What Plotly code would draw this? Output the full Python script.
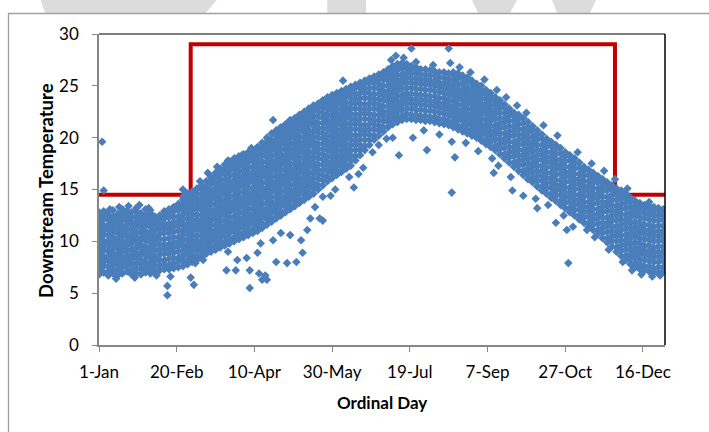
import plotly.graph_objects as go

# ---------------- data ----------------
column_days = [1, 4, 7, 10, 13, 16, 19, 22, 25, 28, 31, 34, 37, 40, 43, 46, 49, 52, 55, 58,
               61, 64, 67, 70, 73, 76, 79, 82, 85, 88, 91, 94, 97, 100, 103, 106, 109, 112, 115, 118,
               121, 124, 127, 130, 133, 136, 139, 142, 145, 148, 151, 154, 157, 160, 163, 166, 169, 172, 175, 178,
               181, 184, 187, 190, 193, 196, 199, 202, 205, 208, 211, 214, 217, 220, 223, 226, 229, 232, 235, 238,
               241, 244, 247, 250, 253, 256, 259, 262, 265, 268, 271, 274, 277, 280, 283, 286, 289, 292, 295, 298,
               301, 304, 307, 310, 313, 316, 319, 322, 325, 328, 331, 334, 337, 340, 343, 346, 349, 352, 355, 358,
               361, 364]

column_temps = [
    [6.8, 7.3, 7.7, 8.3, 8.8, 9.2, 9.7, 10.3, 10.7, 11.2, 11.8, 12.2, 12.8],
    [7.0, 7.6, 8.0, 8.5, 9.1, 9.5, 10.0, 10.6, 11.0, 11.5, 12.1, 12.5, 12.9],
    [6.7, 7.1, 7.6, 8.2, 8.6, 9.1, 9.7, 10.1, 10.6, 11.2, 11.6, 12.1, 12.6],
    [6.9, 7.4, 7.9, 8.4, 8.9, 9.4, 9.9, 10.4, 10.9, 11.4, 11.9, 12.4, 13.0],
    [6.7, 7.2, 7.8, 8.1, 8.7, 9.3, 9.6, 10.2, 10.8, 11.1, 11.7, 12.2, 12.6],
    [6.9, 7.5, 7.9, 8.4, 9.0, 9.4, 9.9, 10.5, 10.9, 11.4, 12.0, 12.4, 12.8, 13.1],
    [7.1, 7.6, 8.1, 8.6, 9.1, 9.6, 10.1, 10.6, 11.1, 11.6, 12.1, 12.5, 12.9],
    [6.8, 7.2, 7.8, 8.3, 8.7, 9.2, 9.8, 10.3, 10.7, 11.2, 11.8, 12.3, 12.8],
    [6.9, 7.4, 7.9, 8.5, 8.9, 9.4, 10.0, 10.4, 10.9, 11.5, 11.9, 12.4, 12.9, 13.2],
    [6.8, 7.3, 7.8, 8.2, 8.8, 9.3, 9.7, 10.2, 10.8, 11.3, 11.7, 12.2, 12.7],
    [7.0, 7.5, 8.0, 8.6, 9.0, 9.5, 10.1, 10.5, 11.0, 11.6, 12.0, 12.5, 13.1],
    [6.9, 7.3, 7.8, 8.4, 8.8, 9.3, 9.9, 10.3, 10.8, 11.4, 11.8, 12.3, 12.7, 13.0],
    [7.1, 7.6, 8.1, 8.5, 9.1, 9.6, 10.0, 10.5, 11.1, 11.5, 12.0, 12.4],
    [7.2, 7.7, 8.2, 8.7, 9.2, 9.7, 10.2, 10.7, 11.2, 11.7, 12.1, 12.5],
    [7.3, 7.8, 8.2, 8.8, 9.3, 9.7, 10.2, 10.8, 11.3, 11.7, 12.2, 12.6, 12.9],
    [7.3, 7.7, 8.3, 8.8, 9.2, 9.7, 10.3, 10.8, 11.2, 11.7, 12.3, 12.7, 13.1],
    [7.4, 7.9, 8.4, 8.9, 9.4, 9.9, 10.4, 10.9, 11.4, 11.9, 12.4, 12.9, 13.3],
    [7.5, 8.0, 8.4, 9.0, 9.5, 9.9, 10.4, 11.0, 11.5, 11.9, 12.4, 13.0, 13.4, 13.6],
    [7.6, 8.1, 8.6, 9.1, 9.6, 10.1, 10.6, 11.1, 11.6, 12.1, 12.6, 13.1, 13.6, 14.0, 14.3],
    [7.8, 8.2, 8.8, 9.3, 9.7, 10.2, 10.8, 11.3, 11.7, 12.2, 12.8, 13.3, 13.7, 14.2, 14.6],
    [8.0, 8.5, 9.0, 9.5, 10.0, 10.5, 11.0, 11.5, 12.0, 12.5, 13.0, 13.5, 14.0, 14.4, 14.8],
    [8.2, 8.6, 9.2, 9.7, 10.1, 10.6, 11.2, 11.7, 12.1, 12.6, 13.2, 13.7, 14.1, 14.6, 15.1],
    [8.5, 9.0, 9.5, 10.0, 10.5, 11.0, 11.5, 12.0, 12.5, 13.0, 13.5, 14.0, 14.5, 15.0, 15.4],
    [8.8, 9.2, 9.8, 10.3, 10.7, 11.2, 11.8, 12.3, 12.7, 13.2, 13.8, 14.3, 14.7, 15.2, 15.8],
    [9.0, 9.5, 10.0, 10.5, 11.0, 11.5, 12.0, 12.5, 13.0, 13.5, 14.0, 14.5, 15.0, 15.5, 15.9, 16.2],
    [9.2, 9.6, 10.2, 10.7, 11.1, 11.6, 12.2, 12.7, 13.1, 13.6, 14.2, 14.7, 15.1, 15.6, 16.2, 16.6],
    [9.4, 9.9, 10.4, 10.9, 11.4, 11.9, 12.4, 12.9, 13.4, 13.9, 14.4, 14.9, 15.4, 15.9, 16.4, 16.7, 17.0],
    [9.6, 10.0, 10.6, 11.1, 11.5, 12.0, 12.6, 13.1, 13.5, 14.0, 14.6, 15.1, 15.5, 16.0, 16.6, 17.0, 17.4],
    [9.8, 10.3, 10.8, 11.3, 11.8, 12.3, 12.8, 13.3, 13.8, 14.3, 14.8, 15.3, 15.8, 16.3, 16.8, 17.3, 17.7],
    [10.0, 10.4, 11.0, 11.5, 11.9, 12.4, 13.0, 13.5, 13.9, 14.4, 15.0, 15.5, 15.9, 16.4, 17.0, 17.5, 18.0],
    [10.2, 10.7, 11.2, 11.7, 12.2, 12.7, 13.2, 13.7, 14.2, 14.7, 15.2, 15.7, 16.2, 16.7, 17.2, 17.7, 18.2],
    [10.4, 10.8, 11.4, 11.9, 12.3, 12.8, 13.4, 13.9, 14.3, 14.8, 15.4, 15.9, 16.3, 16.8, 17.4, 17.9, 18.4],
    [10.6, 11.1, 11.6, 12.1, 12.6, 13.1, 13.6, 14.1, 14.6, 15.1, 15.6, 16.1, 16.6, 17.1, 17.6, 18.1, 18.6],
    [10.8, 11.2, 11.8, 12.3, 12.7, 13.2, 13.8, 14.3, 14.7, 15.2, 15.8, 16.3, 16.7, 17.2, 17.8, 18.3, 18.8],
    [11.0, 11.5, 12.0, 12.5, 13.0, 13.5, 14.0, 14.5, 15.0, 15.5, 16.0, 16.5, 17.0, 17.5, 18.0, 18.5, 18.9, 19.1],
    [11.3, 11.7, 12.3, 12.8, 13.2, 13.7, 14.3, 14.8, 15.2, 15.7, 16.3, 16.8, 17.2, 17.7, 18.3, 18.8, 19.2, 19.5],
    [11.6, 12.1, 12.6, 13.1, 13.6, 14.1, 14.6, 15.1, 15.6, 16.1, 16.6, 17.1, 17.6, 18.1, 18.6, 19.1, 19.6, 20.0],
    [11.9, 12.3, 12.9, 13.4, 13.8, 14.3, 14.9, 15.4, 15.8, 16.3, 16.9, 17.4, 17.8, 18.3, 18.9, 19.4, 19.8, 20.4],
    [12.2, 12.7, 13.2, 13.7, 14.2, 14.7, 15.2, 15.7, 16.2, 16.7, 17.2, 17.7, 18.2, 18.7, 19.2, 19.7, 20.2, 20.7],
    [12.5, 12.9, 13.5, 14.0, 14.4, 14.9, 15.5, 16.0, 16.4, 16.9, 17.5, 18.0, 18.4, 18.9, 19.5, 20.0, 20.5, 21.0],
    [12.8, 13.3, 13.8, 14.3, 14.8, 15.3, 15.8, 16.3, 16.8, 17.3, 17.8, 18.3, 18.8, 19.3, 19.8, 20.3, 20.8, 21.3],
    [13.1, 13.5, 14.1, 14.6, 15.0, 15.5, 16.1, 16.6, 17.0, 17.5, 18.1, 18.6, 19.0, 19.5, 20.1, 20.6, 21.1, 21.6],
    [13.4, 13.9, 14.4, 14.9, 15.4, 15.9, 16.4, 16.9, 17.4, 17.9, 18.4, 18.9, 19.4, 19.9, 20.4, 20.9, 21.4, 21.9],
    [13.7, 14.1, 14.7, 15.2, 15.6, 16.1, 16.7, 17.2, 17.6, 18.1, 18.7, 19.2, 19.6, 20.1, 20.7, 21.2, 21.7, 22.2],
    [14.0, 14.5, 15.0, 15.5, 16.0, 16.5, 17.0, 17.5, 18.0, 18.5, 19.0, 19.5, 20.0, 20.5, 21.0, 21.5, 22.0, 22.5],
    [14.3, 14.7, 15.3, 15.8, 16.2, 16.7, 17.3, 17.8, 18.2, 18.7, 19.3, 19.8, 20.2, 20.7, 21.3, 21.8, 22.3, 22.8],
    [14.6, 15.1, 15.6, 16.1, 16.6, 17.1, 17.6, 18.1, 18.6, 19.1, 19.6, 20.1, 20.6, 21.1, 21.6, 22.1, 22.6, 23.1],
    [15.0, 15.4, 16.0, 16.5, 16.9, 17.4, 18.0, 18.5, 18.9, 19.4, 20.0, 20.5, 20.9, 21.4, 22.0, 22.5, 22.9, 23.3],
    [15.4, 15.9, 16.4, 16.9, 17.4, 17.9, 18.4, 18.9, 19.4, 19.9, 20.4, 20.9, 21.4, 21.9, 22.4, 22.9, 23.3, 23.6],
    [15.8, 16.2, 16.8, 17.3, 17.7, 18.2, 18.8, 19.3, 19.7, 20.2, 20.8, 21.3, 21.7, 22.2, 22.8, 23.3, 23.9],
    [16.1, 16.6, 17.1, 17.6, 18.1, 18.6, 19.1, 19.6, 20.1, 20.6, 21.1, 21.6, 22.1, 22.6, 23.1, 23.6, 24.1],
    [16.4, 16.8, 17.4, 17.9, 18.3, 18.8, 19.4, 19.9, 20.3, 20.8, 21.4, 21.9, 22.3, 22.8, 23.4, 23.9, 24.3],
    [16.7, 17.2, 17.7, 18.2, 18.7, 19.2, 19.7, 20.2, 20.7, 21.2, 21.7, 22.2, 22.7, 23.2, 23.7, 24.1, 24.5],
    [17.0, 17.4, 18.0, 18.5, 18.9, 19.4, 20.0, 20.5, 20.9, 21.4, 22.0, 22.5, 22.9, 23.4, 24.0, 24.4, 24.7],
    [17.3, 17.8, 18.3, 18.8, 19.3, 19.8, 20.3, 20.8, 21.3, 21.8, 22.3, 22.8, 23.3, 23.8, 24.3, 24.6, 24.9],
    [17.8, 18.2, 18.8, 19.3, 19.7, 20.2, 20.8, 21.3, 21.7, 22.2, 22.8, 23.3, 23.7, 24.2, 24.8, 25.1],
    [18.3, 18.8, 19.3, 19.8, 20.3, 20.8, 21.3, 21.8, 22.3, 22.8, 23.3, 23.8, 24.3, 24.8, 25.3],
    [18.8, 19.2, 19.8, 20.3, 20.7, 21.2, 21.8, 22.3, 22.7, 23.2, 23.8, 24.3, 24.7, 25.2, 25.5],
    [19.3, 19.8, 20.3, 20.8, 21.3, 21.8, 22.3, 22.8, 23.3, 23.8, 24.3, 24.8, 25.3, 25.7],
    [19.8, 20.2, 20.8, 21.3, 21.7, 22.2, 22.8, 23.3, 23.7, 24.2, 24.8, 25.3, 25.6, 25.9],
    [20.2, 20.7, 21.2, 21.7, 22.2, 22.7, 23.2, 23.7, 24.2, 24.7, 25.2, 25.7, 26.1],
    [20.6, 21.0, 21.6, 22.1, 22.5, 23.0, 23.6, 24.1, 24.5, 25.0, 25.6, 26.0, 26.3],
    [21.0, 21.5, 22.0, 22.5, 23.0, 23.5, 24.0, 24.5, 25.0, 25.5, 26.0, 26.3, 26.6],
    [21.3, 21.7, 22.3, 22.8, 23.2, 23.7, 24.3, 24.8, 25.2, 25.7, 26.3, 26.6, 26.9],
    [21.5, 22.0, 22.5, 23.0, 23.5, 24.0, 24.5, 25.0, 25.5, 26.0, 26.5, 26.8, 27.1],
    [21.7, 22.1, 22.7, 23.2, 23.6, 24.1, 24.7, 25.2, 25.6, 26.1, 26.7, 27.0, 27.2],
    [21.8, 22.3, 22.8, 23.3, 23.8, 24.3, 24.8, 25.3, 25.8, 26.3, 26.7, 27.1],
    [21.8, 22.2, 22.8, 23.3, 23.7, 24.2, 24.8, 25.3, 25.7, 26.2, 26.6, 26.9],
    [21.7, 22.2, 22.7, 23.2, 23.7, 24.2, 24.7, 25.2, 25.7, 26.2, 26.5, 26.8],
    [21.7, 22.1, 22.7, 23.2, 23.6, 24.1, 24.7, 25.2, 25.6, 26.1, 26.6],
    [21.6, 22.1, 22.6, 23.1, 23.6, 24.1, 24.6, 25.1, 25.6, 26.1, 26.6],
    [21.6, 22.0, 22.6, 23.1, 23.5, 24.0, 24.6, 25.1, 25.5, 26.0, 26.5],
    [21.5, 22.0, 22.5, 23.0, 23.5, 24.0, 24.5, 25.0, 25.5, 26.0, 26.4],
    [21.4, 21.8, 22.4, 22.9, 23.3, 23.8, 24.4, 24.9, 25.3, 25.8, 26.3],
    [21.3, 21.8, 22.3, 22.8, 23.3, 23.8, 24.3, 24.8, 25.3, 25.8, 26.3],
    [21.2, 21.6, 22.2, 22.7, 23.1, 23.6, 24.2, 24.7, 25.1, 25.6, 26.2],
    [21.0, 21.5, 22.0, 22.5, 23.0, 23.5, 24.0, 24.5, 25.0, 25.5, 26.0, 26.3],
    [20.8, 21.2, 21.8, 22.3, 22.7, 23.2, 23.8, 24.3, 24.7, 25.2, 25.8, 26.2],
    [20.6, 21.1, 21.6, 22.1, 22.6, 23.1, 23.6, 24.1, 24.6, 25.1, 25.6, 26.0],
    [20.4, 20.8, 21.4, 21.9, 22.3, 22.8, 23.4, 23.9, 24.3, 24.8, 25.4, 25.8],
    [20.2, 20.7, 21.2, 21.7, 22.2, 22.7, 23.2, 23.7, 24.2, 24.7, 25.2, 25.5],
    [20.0, 20.4, 21.0, 21.5, 21.9, 22.4, 23.0, 23.5, 23.9, 24.4, 24.9, 25.2],
    [19.7, 20.2, 20.7, 21.2, 21.7, 22.2, 22.7, 23.2, 23.7, 24.2, 24.6, 25.0],
    [19.4, 19.8, 20.4, 20.9, 21.3, 21.8, 22.4, 22.9, 23.3, 23.8, 24.3, 24.6],
    [19.1, 19.6, 20.1, 20.6, 21.1, 21.6, 22.1, 22.6, 23.1, 23.6, 24.0, 24.3],
    [18.8, 19.2, 19.8, 20.3, 20.7, 21.2, 21.8, 22.3, 22.7, 23.2, 23.6, 23.9],
    [18.4, 18.9, 19.4, 19.9, 20.4, 20.9, 21.4, 21.9, 22.4, 22.9, 23.3, 23.6],
    [18.0, 18.4, 19.0, 19.5, 19.9, 20.4, 21.0, 21.5, 21.9, 22.4, 22.9, 23.2],
    [17.6, 18.1, 18.6, 19.1, 19.6, 20.1, 20.6, 21.1, 21.6, 22.1, 22.5, 22.8],
    [17.2, 17.6, 18.2, 18.7, 19.1, 19.6, 20.2, 20.7, 21.1, 21.6, 22.1, 22.4],
    [16.8, 17.3, 17.8, 18.3, 18.8, 19.3, 19.8, 20.3, 20.8, 21.3, 21.8, 22.2],
    [16.4, 16.8, 17.4, 17.9, 18.3, 18.8, 19.4, 19.9, 20.3, 20.8, 21.4, 21.9],
    [16.0, 16.5, 17.0, 17.5, 18.0, 18.5, 19.0, 19.5, 20.0, 20.5, 21.0, 21.5],
    [15.7, 16.1, 16.7, 17.2, 17.6, 18.1, 18.7, 19.2, 19.6, 20.1, 20.7, 21.1],
    [15.3, 15.8, 16.3, 16.8, 17.3, 17.8, 18.3, 18.8, 19.3, 19.8, 20.3, 20.7],
    [14.9, 15.3, 15.9, 16.4, 16.8, 17.3, 17.9, 18.4, 18.8, 19.3, 19.9, 20.3],
    [14.6, 15.1, 15.6, 16.1, 16.6, 17.1, 17.6, 18.1, 18.6, 19.1, 19.6, 19.9],
    [14.2, 14.6, 15.2, 15.7, 16.1, 16.6, 17.2, 17.7, 18.1, 18.6, 19.2, 19.6],
    [13.9, 14.4, 14.9, 15.4, 15.9, 16.4, 16.9, 17.4, 17.9, 18.4, 18.9, 19.3],
    [13.5, 13.9, 14.5, 15.0, 15.4, 15.9, 16.5, 17.0, 17.4, 17.9, 18.5, 19.0],
    [13.2, 13.7, 14.2, 14.7, 15.2, 15.7, 16.2, 16.7, 17.2, 17.7, 18.2, 18.6],
    [12.8, 13.2, 13.8, 14.3, 14.7, 15.2, 15.8, 16.3, 16.7, 17.2, 17.8, 18.3],
    [12.5, 13.0, 13.5, 14.0, 14.5, 15.0, 15.5, 16.0, 16.5, 17.0, 17.5, 18.0],
    [12.1, 12.5, 13.1, 13.6, 14.0, 14.5, 15.1, 15.6, 16.0, 16.5, 17.1, 17.6],
    [11.8, 12.3, 12.8, 13.3, 13.8, 14.3, 14.8, 15.3, 15.8, 16.3, 16.8, 17.2],
    [11.4, 11.8, 12.4, 12.9, 13.3, 13.8, 14.4, 14.9, 15.3, 15.8, 16.4, 16.9],
    [11.1, 11.6, 12.1, 12.6, 13.1, 13.6, 14.1, 14.6, 15.1, 15.6, 16.1, 16.6],
    [10.7, 11.1, 11.7, 12.2, 12.6, 13.1, 13.7, 14.2, 14.6, 15.1, 15.7, 16.0, 16.3],
    [10.3, 10.8, 11.3, 11.8, 12.3, 12.8, 13.3, 13.8, 14.3, 14.8, 15.3, 15.7, 16.0],
    [9.9, 10.3, 10.9, 11.4, 11.8, 12.3, 12.9, 13.4, 13.8, 14.3, 14.9, 15.3, 15.7],
    [9.5, 10.0, 10.5, 11.0, 11.5, 12.0, 12.5, 13.0, 13.5, 14.0, 14.5, 15.0, 15.4],
    [9.0, 9.4, 10.0, 10.5, 10.9, 11.4, 12.0, 12.5, 12.9, 13.4, 14.0, 14.5, 14.8, 15.1],
    [8.6, 9.1, 9.6, 10.1, 10.6, 11.1, 11.6, 12.1, 12.6, 13.1, 13.6, 14.1, 14.5, 14.9],
    [8.2, 8.6, 9.2, 9.7, 10.1, 10.6, 11.2, 11.7, 12.1, 12.6, 13.2, 13.7, 14.1, 14.6],
    [7.8, 8.3, 8.8, 9.3, 9.8, 10.3, 10.8, 11.3, 11.8, 12.3, 12.8, 13.3, 13.8, 14.2],
    [7.5, 7.9, 8.5, 9.0, 9.4, 9.9, 10.5, 11.0, 11.4, 11.9, 12.5, 13.0, 13.4, 13.9],
    [7.3, 7.8, 8.3, 8.8, 9.3, 9.8, 10.3, 10.8, 11.3, 11.8, 12.3, 12.8, 13.3, 13.7],
    [7.2, 7.6, 8.2, 8.7, 9.1, 9.6, 10.2, 10.7, 11.1, 11.6, 12.2, 12.7, 13.1, 13.5],
    [7.1, 7.6, 8.1, 8.6, 9.1, 9.6, 10.1, 10.6, 11.1, 11.6, 12.1, 12.6, 13.1, 13.4],
    [7.0, 7.4, 8.0, 8.5, 8.9, 9.4, 10.0, 10.5, 10.9, 11.4, 12.0, 12.5, 12.9, 13.3],
    [7.0, 7.5, 8.0, 8.5, 9.0, 9.5, 10.0, 10.5, 11.0, 11.5, 12.0, 12.5, 13.0, 13.2],
    [7.1, 7.5, 8.1, 8.6, 9.0, 9.5, 10.1, 10.6, 11.0, 11.5, 12.1, 12.6, 12.9, 13.1],
]

# scattered points lying outside the dense band
outlier_days = [3, 4, 8, 14, 20, 27, 33, 45, 45, 47,
                48, 24, 12, 38, 55, 57, 60, 62, 63, 68,
                66, 71, 77, 77, 83, 84, 84, 89, 90, 93,
                96, 98, 98, 99, 103, 104, 105, 106, 108, 109,
                113, 113, 115, 118, 122, 124, 124, 128, 131, 132,
                135, 137, 140, 143, 145, 145, 150, 153, 158, 162,
                165, 168, 171, 171, 177, 181, 186, 188, 189, 190,
                192, 194, 197, 202, 203, 205, 210, 212, 216, 220,
                226, 227, 228, 228, 230, 233, 237, 240, 245, 249,
                254, 255, 257, 258, 263, 266, 267, 270, 274, 276,
                282, 283, 287, 290, 295, 296, 300, 302, 303, 306,
                309, 315, 318, 320, 326, 329, 333, 338, 341, 344,
                350, 355, 357, 362]
outlier_temps = [19.6, 14.9, 13.1, 13.3, 13.4, 13.5, 13.2, 4.8, 5.7, 6.6,
                 7.6, 6.5, 6.4, 6.7, 15.0, 14.6, 6.5, 5.8, 7.9, 8.2,
                 15.8, 16.6, 17.2, 9.8, 7.2, 9.0, 17.8, 7.2, 8.2, 18.3,
                 8.4, 5.5, 7.2, 19.0, 8.9, 6.9, 9.8, 6.3, 6.7, 6.3,
                 21.7, 10.1, 8.0, 10.8, 7.9, 10.6, 21.7, 8.0, 10.1, 8.9,
                 11.1, 12.2, 13.3, 12.2, 12.0, 14.3, 14.4, 15.0, 25.5, 16.2,
                 15.2, 16.5, 17.1, 25.2, 18.6, 19.3, 19.9, 21.4, 27.5, 20.0,
                 27.9, 18.3, 27.7, 28.6, 20.0, 27.3, 20.7, 18.8, 27.0, 20.3,
                 28.6, 27.2, 14.7, 19.6, 18.1, 26.8, 19.5, 26.3, 18.7, 25.6,
                 18.0, 16.6, 24.6, 17.3, 23.9, 16.2, 14.9, 23.1, 14.4, 22.4,
                 14.1, 13.2, 21.2, 13.5, 11.8, 20.2, 12.5, 11.1, 7.9, 11.4,
                 18.6, 11.1, 17.5, 10.4, 16.8, 9.2, 16.0, 8.0, 15.1, 7.2,
                 6.8, 13.8, 6.6, 6.7]

# red threshold step line
threshold_days = [1, 60, 333, 365.2]
threshold_temps = [14.5, 29, 14.5, 14.5]

tick_days = [1, 51, 101, 151, 201, 251, 301, 351]
tick_labels = ["1-Jan", "20-Feb", "10-Apr", "30-May", "19-Jul", "7-Sep", "27-Oct", "16-Dec"]

# ---------------- build figure ----------------
scatter_x, scatter_y = [], []
for d, temps in zip(column_days, column_temps):
    for t in temps:
        scatter_x.append(d)
        scatter_y.append(t)
scatter_x += outlier_days
scatter_y += outlier_temps

W, H = 709, 432
L, R, T, B = 99, 44, 34, 87
FONT = "Lato, 'Open Sans', sans-serif"

def px_to_paper_x(px):
    return (px - L) / (W - L - R)

def px_to_paper_y(py):
    return 1 - (py - T) / (H - T - B)

fig = go.Figure()
fig.add_trace(go.Scatter(
    x=threshold_days, y=threshold_temps, mode="lines",
    line=dict(color="#c00000", width=4, shape="hv"),
    hoverinfo="skip", showlegend=False))
fig.add_trace(go.Scatter(
    x=scatter_x, y=scatter_y, mode="markers",
    marker=dict(symbol="diamond", size=6.6, color="#4a7ebb", line=dict(width=0)),
    showlegend=False))

shapes = []
# watermark pieces peeking out above the chart frame
wm_polys = [
    [(40.7, 0), (216.7, 0), (205.7, 13), (45, 13)],
    [(327.3, 0), (366, 0), (366, 13), (327.3, 13)],
    [(472, 0), (517, 0), (510, 13), (478, 13)],
    [(552, 0), (596, 0), (590, 13), (557, 13)],
]
for poly in wm_polys:
    path = "M " + " L ".join(f"{px_to_paper_x(x):.5f},{px_to_paper_y(y):.5f}" for x, y in poly) + " Z"
    shapes.append(dict(type="path", xref="paper", yref="paper", path=path,
                       fillcolor="#dcdcdc", line=dict(width=0), layer="below"))
# chart frame
shapes.append(dict(type="rect", xref="paper", yref="paper",
                   x0=px_to_paper_x(8.5), x1=px_to_paper_x(760),
                   y0=px_to_paper_y(480), y1=px_to_paper_y(13.5),
                   fillcolor="white", line=dict(color="#a0a0a0", width=1.3), layer="below"))
# plot area border top/right (black)
shapes.append(dict(type="line", xref="paper", yref="paper", x0=0, x1=1, y0=1, y1=1,
                   line=dict(color="black", width=1.2), layer="above"))
shapes.append(dict(type="line", xref="paper", yref="paper", x0=1, x1=1, y0=0, y1=1,
                   line=dict(color="black", width=1.5), layer="above"))

fig.update_layout(
    width=W, height=H,
    margin=dict(l=L, r=R, t=T, b=B, pad=0),
    paper_bgcolor="white", plot_bgcolor="white",
    font=dict(family=FONT, size=17, color="black"),
    shapes=shapes,
    annotations=[
        dict(text="<b>Downstream Temperature</b>", xref="paper", yref="paper",
             x=px_to_paper_x(46), y=px_to_paper_y(191), textangle=-90,
             showarrow=False, font=dict(size=18.5, family=FONT, color="black"),
             xanchor="center", yanchor="middle"),
        dict(text="<b>Ordinal Day</b>", xref="paper", yref="paper",
             x=px_to_paper_x(382), y=px_to_paper_y(402),
             showarrow=False, font=dict(size=17, family=FONT, color="black"),
             xanchor="center", yanchor="middle"),
    ],
)
fig.update_xaxes(range=[1, 365.2], tickvals=tick_days, ticktext=tick_labels,
                 showline=True, linecolor="#868686", linewidth=1.5,
                 ticks="outside", ticklen=5, tickcolor="#868686", tickwidth=1,
                 showgrid=False, zeroline=False, ticklabelstandoff=6)
fig.update_yaxes(range=[0, 30], tickvals=[0, 5, 10, 15, 20, 25, 30],
                 showline=True, linecolor="#868686", linewidth=1.5,
                 ticks="outside", ticklen=5, tickcolor="#868686", tickwidth=1,
                 showgrid=False, zeroline=False, ticklabelstandoff=10)

fig.write_html("out.html")
